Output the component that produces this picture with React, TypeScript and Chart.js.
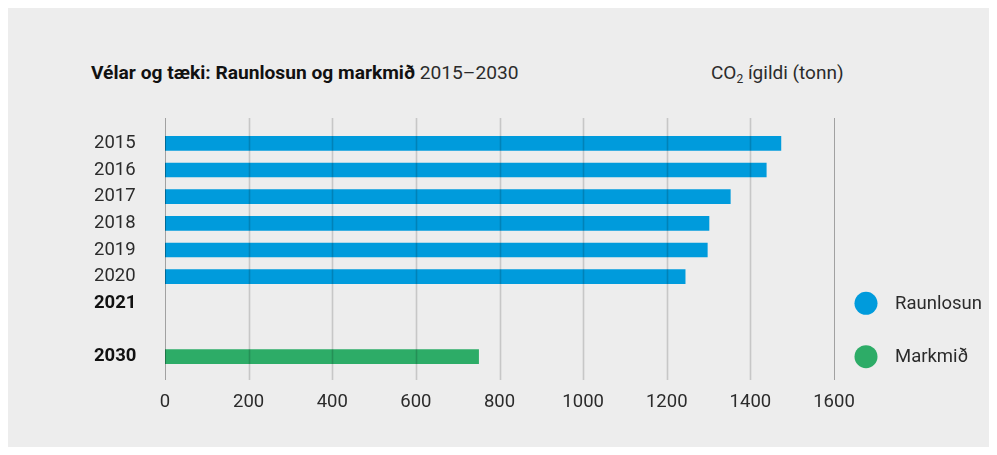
import React, { useEffect, useRef } from 'react';
import { Chart, registerables } from 'chart.js';

Chart.register(...registerables);

const categories = ['2015', '2016', '2017', '2018', '2019', '2020', '2021', '', '2030'];
const boldCategories = ['2021', '2030'];
const raunlosun = [1473, 1438, 1352, 1301, 1297, 1244, null, null, null];
const markmid = [null, null, null, null, null, null, null, null, 750];
const seriesNames = ['Raunlosun', 'Markmið'];
const seriesColors = ['#009bdc', '#2dac67'];
const legendRows = ['2021', '2030'];
const xMin = 0;
const xMax = 1600;
const xStep = 200;

const FONT = 'Roboto, "DejaVu Sans", sans-serif';
const FS = 18.5;

const gridOverlay = {
  id: 'gridOverlay',
  afterDatasetsDraw(chart: any) {
    const { ctx, chartArea, scales } = chart;
    const x = scales.x;
    ctx.save();
    x.ticks.forEach((t: any) => {
      const px = Math.round(x.getPixelForValue(t.value)) + 0.5;
      const edge = t.value === xMin || t.value === xMax;
      ctx.strokeStyle = edge ? 'rgba(0,0,0,0.32)' : 'rgba(0,0,0,0.16)';
      ctx.lineWidth = edge ? 1 : 1.6;
      ctx.beginPath();
      ctx.moveTo(px, chartArea.top - 12);
      ctx.lineTo(px, chartArea.bottom + 10);
      ctx.stroke();
    });
    ctx.restore();
  },
};

const sideLegend = {
  id: 'sideLegend',
  afterDraw(chart: any) {
    const { ctx, chartArea, scales } = chart;
    const y = scales.y;
    ctx.save();
    chart.data.datasets.forEach((ds: any, i: number) => {
      const cy = y.getPixelForValue(categories.indexOf(legendRows[i]));
      const cx = chartArea.right + 32;
      ctx.fillStyle = ds.backgroundColor;
      ctx.beginPath();
      ctx.arc(cx, cy, 11.5, 0, Math.PI * 2);
      ctx.fill();
      ctx.fillStyle = '#2b2b2b';
      ctx.font = `${FS}px ${FONT}`;
      ctx.textBaseline = 'middle';
      ctx.textAlign = 'left';
      ctx.fillText(ds.label, cx + 29, cy + 1);
    });
    ctx.restore();
  },
};

function ChartCanvas() {
  const ref = useRef<HTMLCanvasElement | null>(null);
  useEffect(() => {
    if (!ref.current) return;
    const chart = new Chart(ref.current, {
      type: 'bar',
      data: {
        labels: categories,
        datasets: [
          {
            label: seriesNames[0],
            data: raunlosun,
            backgroundColor: seriesColors[0],
            barThickness: 14,
            grouped: false,
          },
          {
            label: seriesNames[1],
            data: markmid,
            backgroundColor: seriesColors[1],
            barThickness: 14,
            grouped: false,
          },
        ],
      } as any,
      options: {
        indexAxis: 'y',
        animation: false,
        responsive: true,
        maintainAspectRatio: false,
        layout: { padding: { left: 86, top: 122, right: 155, bottom: 37 } },
        plugins: {
          legend: { display: false },
          tooltip: { enabled: false },
          title: { display: false },
        },
        scales: {
          x: {
            min: xMin,
            max: xMax,
            border: { display: false },
            grid: { display: false, drawTicks: false },
            ticks: {
              stepSize: xStep,
              padding: 21,
              color: '#2b2b2b',
              font: { family: FONT, size: FS },
              callback: (v: any) => String(v),
            },
            afterFit(scale: any) {
              scale.height = 40;
            },
          },
          y: {
            border: { display: false },
            grid: { display: false, drawTicks: false },
            ticks: {
              crossAlign: 'far',
              padding: 0,
              color: (c: any) => (boldCategories.includes(categories[c.index]) ? '#111' : '#2b2b2b'),
              font: (c: any) => ({
                family: FONT,
                size: FS,
                weight: boldCategories.includes(categories[c.index]) ? 'bold' : 'normal',
              }),
            },
            afterFit(scale: any) {
              scale.width = 71;
            },
          },
        },
      } as any,
      plugins: [gridOverlay, sideLegend],
    });
    return () => chart.destroy();
  }, []);
  return (
    <div style={{ position: 'absolute', left: 0, top: 0, right: 0, bottom: 0 }}>
      <canvas ref={ref} />
    </div>
  );
}

export default function App() {
  return (
    <div
      style={{
        position: 'relative',
        height: 439,
        background: '#ededed',
        fontFamily: FONT,
      }}
    >
      <div
        style={{
          position: 'absolute',
          left: 83,
          top: 55,
          fontSize: 19.2,
          lineHeight: '20px',
          color: '#111',
          whiteSpace: 'nowrap',
        }}
      >
        <span style={{ fontWeight: 'bold' }}>Vélar og tæki: Raunlosun og markmið</span>
        <span style={{ color: '#2b2b2b' }}> 2015–2030</span>
      </div>
      <div
        style={{
          position: 'absolute',
          left: 703,
          top: 55,
          fontSize: 19,
          lineHeight: '20px',
          color: '#2b2b2b',
          whiteSpace: 'nowrap',
        }}
      >
        CO<sub style={{ fontSize: 12, lineHeight: 0, verticalAlign: -4 }}>2</sub> ígildi (tonn)
      </div>
      <ChartCanvas />
    </div>
  );
}
